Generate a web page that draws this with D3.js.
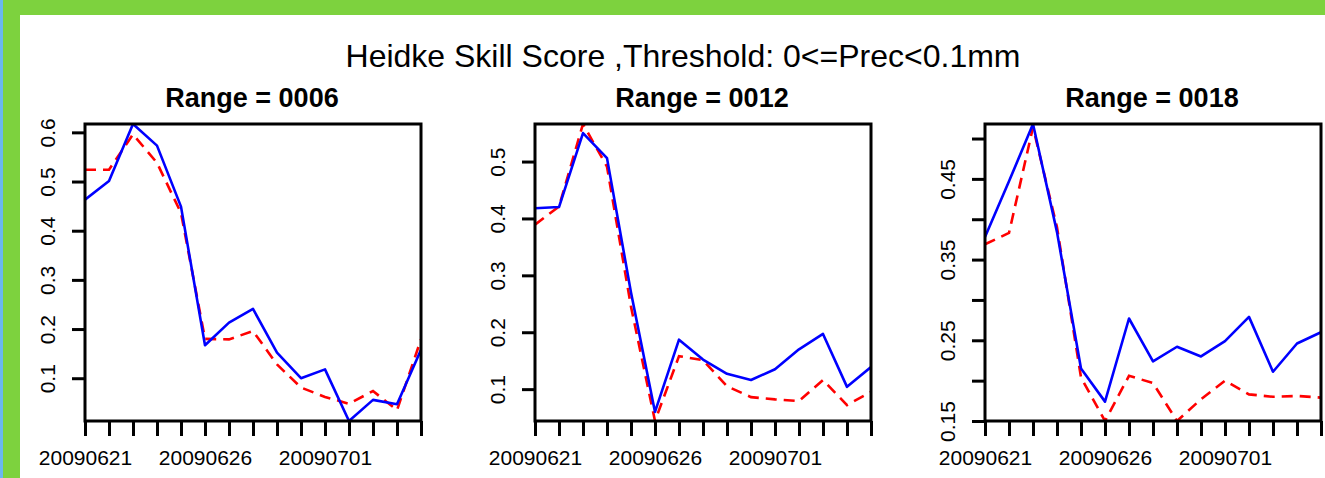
<!DOCTYPE html>
<html lang="en">
<head>
<meta charset="utf-8">
<title>Heidke Skill Score</title>
<script src="https://d3js.org/d3.v7.min.js"></script>
<style>
  body { margin: 0; background: #fff; }
  svg text { font-family: "Liberation Sans", Arial, Helvetica, sans-serif; fill: #000; }
</style>
</head>
<body>
<svg width="1325" height="478"></svg>
<script>
// ---- data ----
const dates = ["20090621", "20090622", "20090623", "20090624", "20090625",
               "20090626", "20090627", "20090628", "20090629", "20090630",
               "20090701", "20090702", "20090703", "20090704", "20090705"];
const dateLabels = ["20090621", "20090626", "20090701"];

const ranges = ["0006", "0012", "0018"];

const blue0006 = [0.463, 0.501, 0.617, 0.573, 0.449, 0.167, 0.213, 0.241, 0.152, 0.100, 0.118, 0.013, 0.056, 0.047, 0.158];
const red0006  = [0.524, 0.524, 0.596, 0.538, 0.436, 0.180, 0.179, 0.196, 0.128, 0.081, 0.062, 0.048, 0.074, 0.035, 0.179];

const blue0012 = [0.418, 0.420, 0.550, 0.506, 0.270, 0.060, 0.187, 0.152, 0.127, 0.116, 0.135, 0.170, 0.197, 0.104, 0.139];
const red0012  = [0.389, 0.421, 0.566, 0.491, 0.245, 0.044, 0.158, 0.151, 0.105, 0.086, 0.082, 0.079, 0.116, 0.072, 0.095];

const blue0018 = [0.378, 0.447, 0.518, 0.384, 0.215, 0.174, 0.277, 0.224, 0.242, 0.230, 0.249, 0.279, 0.211, 0.246, 0.260];
const red0018  = [0.369, 0.383, 0.514, 0.390, 0.204, 0.150, 0.206, 0.197, 0.150, 0.177, 0.200, 0.183, 0.180, 0.181, 0.179];

const yTicks0006 = [0.1, 0.2, 0.3, 0.4, 0.5, 0.6];
const yLabels0006 = ["0.1", "0.2", "0.3", "0.4", "0.5", "0.6"];
const yTicks0012 = [0.1, 0.2, 0.3, 0.4, 0.5];
const yLabels0012 = ["0.1", "0.2", "0.3", "0.4", "0.5"];
const yTicks0018 = [0.15, 0.20, 0.25, 0.30, 0.35, 0.40, 0.45, 0.50];
const yLabels0018 = ["0.15", "", "0.25", "", "0.35", "", "0.45", ""];

const mainTitle = "Heidke Skill Score ,Threshold: 0<=Prec<0.1mm";

// ---- layout ----
const svg = d3.select("svg");
const panelLeft = [85, 535, 985];
const boxW = 336, boxTop = 124, boxBottom = 421;

// page frame (green border as in the screenshot)
svg.append("rect").attr("x", 0).attr("y", 0).attr("width", 1325).attr("height", 15).attr("fill", "#7dd23e");
svg.append("rect").attr("x", 0).attr("y", 0).attr("width", 20).attr("height", 478).attr("fill", "#7dd23e");
svg.append("rect").attr("x", 0).attr("y", 0).attr("width", 3).attr("height", 478).attr("fill", "#6ab7ef");

svg.append("text")
    .attr("x", 683).attr("y", 67)
    .attr("text-anchor", "middle")
    .attr("font-size", 32)
    .text(mainTitle);

const panels = [
    { name: ranges[0], blue: blue0006, red: red0006, ticks: yTicks0006, labels: yLabels0006 },
    { name: ranges[1], blue: blue0012, red: red0012, ticks: yTicks0012, labels: yLabels0012 },
    { name: ranges[2], blue: blue0018, red: red0018, ticks: yTicks0018, labels: yLabels0018 }
];

panels.forEach((p, k) => {
    let g = svg.append("g").attr("transform", "translate(" + panelLeft[k] + "," + boxTop + ")");
    let height = boxBottom - boxTop;

    let xScale = d3.scalePoint().domain(dates).range([0, boxW]).padding(0);
    let yScale = d3.scaleLinear()
        .domain(d3.extent(p.blue.concat(p.red)))
        .range([height, 0]);

    // clip like R's plot region
    g.append("clipPath").attr("id", "clip" + k)
        .append("rect").attr("width", boxW).attr("height", height);

    let line = d3.line()
        .x((d, i) => xScale(dates[i]))
        .y(d => yScale(d));

    g.append("path")
        .datum(p.red)
        .attr("clip-path", "url(#clip" + k + ")")
        .attr("fill", "none")
        .attr("stroke", "#ff0000")
        .attr("stroke-width", 2.6)
        .attr("stroke-dasharray", "11,7")
        .attr("d", line);

    g.append("path")
        .datum(p.blue)
        .attr("clip-path", "url(#clip" + k + ")")
        .attr("fill", "none")
        .attr("stroke", "#0000ff")
        .attr("stroke-width", 2.6)
        .attr("stroke-linejoin", "round")
        .attr("d", line);

    // bottom axis: tick at every date, labels only at some
    let xAxis = g.append("g")
        .attr("transform", "translate(0," + height + ")")
        .call(d3.axisBottom(xScale).tickSize(15).tickPadding(14)
            .tickFormat(d => dateLabels.includes(d) ? d : ""));
    xAxis.select(".domain").remove();
    xAxis.selectAll(".tick line").attr("stroke", "#000").attr("stroke-width", 3);
    xAxis.selectAll("text")
        .attr("font-size", 21)
        .attr("font-family", "Liberation Sans, Arial, sans-serif")
        .attr("fill", "#000");

    // left axis with rotated labels
    let yAxis = g.append("g")
        .call(d3.axisLeft(yScale).tickValues(p.ticks).tickSize(13)
            .tickFormat((d, i) => p.labels[i]));
    yAxis.select(".domain").remove();
    yAxis.selectAll(".tick line").attr("stroke", "#000").attr("stroke-width", 3);
    yAxis.selectAll("text")
        .attr("font-size", 21)
        .attr("font-family", "Liberation Sans, Arial, sans-serif")
        .attr("fill", "#000")
        .attr("x", null).attr("dy", null)
        .attr("text-anchor", "middle")
        .attr("transform", "translate(-30,0) rotate(-90)");

    // box
    g.append("rect")
        .attr("width", boxW).attr("height", height)
        .attr("fill", "none")
        .attr("stroke", "#000")
        .attr("stroke-width", 3);

    g.append("text")
        .attr("x", boxW / 2 - 1).attr("y", -17)
        .attr("text-anchor", "middle")
        .attr("font-weight", "bold")
        .attr("font-size", 27)
        .text("Range = " + p.name);
});
</script>
</body>
</html>
